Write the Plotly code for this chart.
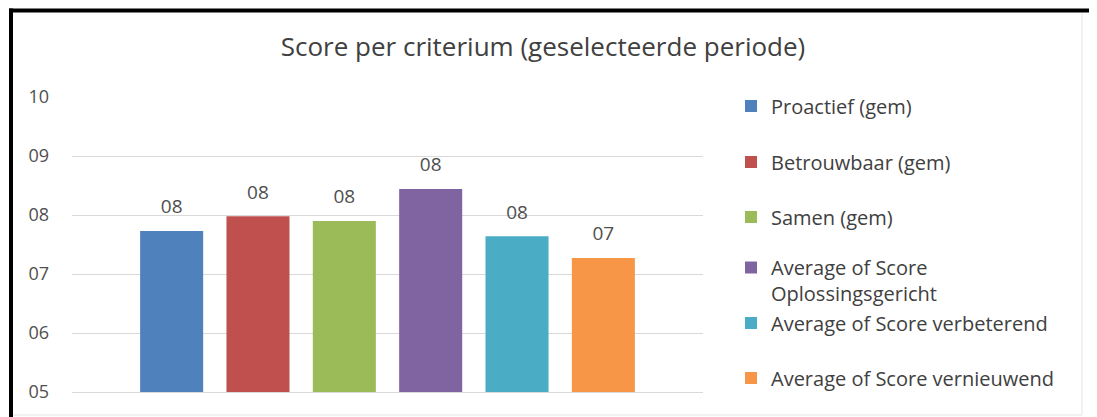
import plotly.graph_objects as go

# ---- data ----
series_names = [
    "Proactief (gem)",
    "Betrouwbaar (gem)",
    "Samen (gem)",
    "Average of Score<br>Oplossingsgericht",
    "Average of Score verbeterend",
    "Average of Score vernieuwend",
]
series_values = [7.73, 7.98, 7.90, 8.44, 7.64, 7.27]
category = ["Score"]
y_ticks = [5, 6, 7, 8, 9, 10]
title_text = "Score per criterium (geselecteerde periode)"

colors = ["#4F81BD", "#C0504D", "#9BBB59", "#8064A2", "#4BACC6", "#F79646"]

# The page body has an 8px default margin; size the figure to fit the window.
OFF = 8
W, H = 1097 - OFF, 417 - OFF
ML, MR, MT, MB = 64, 394, 89, 25
PW = W - ML - MR
PH = H - MT - MB

def xp(px):  # window pixel -> paper x
    return (px - OFF - ML) / PW

def yp(py):  # window pixel -> paper y
    return (H - MB - (py - OFF)) / PH

FONT = "Open Sans"
GREY = "#4F4F4F"
DARK = "#404040"
GAP = 0.179

fig = go.Figure()
legend_names = ["legend", "legend2", "legend3", "legend4", "legend5", "legend6"]
for i, (name, val) in enumerate(zip(series_names, series_values)):
    fig.add_trace(go.Bar(
        x=category,
        y=[val],
        name=name,
        offsetgroup=f"g{i}",
        marker=dict(color=colors[i], line=dict(width=0)),
        legend=legend_names[i],
        hoverinfo="skip",
    ))
for i, val in enumerate(series_values):
    fig.add_trace(go.Scatter(
        x=category,
        y=[val],
        offsetgroup=f"g{i}",
        mode="markers+text",
        marker=dict(size=19, opacity=0),
        texttemplate="%{y:02.0f}",
        textposition="top center",
        textfont=dict(family=FONT, size=19, color=GREY),
        cliponaxis=False,
        showlegend=False,
        hoverinfo="skip",
    ))

# legend item vertical centres (window pixels)
legend_py = [106, 162, 217, 268, 323, 378]
legend_x = xp(731)
layout_legends = {}
for i, ln in enumerate(legend_names):
    if i == 3:
        cfg = dict(x=legend_x, xanchor="left", y=yp(legend_py[i] - 20), yanchor="top",
                   valign="top")
    else:
        cfg = dict(x=legend_x, xanchor="left", y=yp(legend_py[i]), yanchor="middle")
    cfg.update(font=dict(family=FONT, size=20, color=DARK),
               bgcolor="rgba(0,0,0,0)", borderwidth=0, itemwidth=30)
    layout_legends[ln] = cfg

fig.update_layout(
    width=W, height=H, autosize=False,
    margin=dict(l=ML, r=MR, t=MT, b=MB, pad=0),
    paper_bgcolor="white", plot_bgcolor="white",
    barmode="group", bargap=GAP, bargroupgap=0.27,
    scattermode="group", scattergap=GAP,
    showlegend=True,
    title=dict(text=title_text, x=(543 - OFF) / W, xanchor="center",
               y=1 - (47 - OFF) / H, yanchor="middle",
               font=dict(family=FONT, size=26, color=DARK)),
    font=dict(family=FONT, color=GREY),
    **layout_legends,
)

fig.update_xaxes(showticklabels=False, showgrid=False, showline=True,
                 linecolor="#D9D9D9", linewidth=1, zeroline=False, ticks="")
fig.update_yaxes(range=[5, 10], tickvals=y_ticks, tickformat="02d",
                 showgrid=True, gridcolor="#D9D9D9", gridwidth=1,
                 zeroline=False, showline=False, ticks="",
                 ticklabelstandoff=22,
                 tickfont=dict(family=FONT, size=18, color=GREY))

# frame: faint chart-area border and dark screenshot edges
fig.add_shape(type="rect", xref="paper", yref="paper",
              x0=xp(11), x1=xp(1082), y0=yp(415), y1=yp(10),
              line=dict(color="#E4E4E4", width=1), layer="below")
fig.add_shape(type="line", xref="paper", yref="paper",
              x0=xp(11), x1=xp(11), y0=yp(420), y1=yp(8.5),
              line=dict(color="black", width=4))
fig.add_shape(type="line", xref="paper", yref="paper",
              x0=xp(9), x1=xp(1100), y0=yp(10.5), y1=yp(10.5),
              line=dict(color="black", width=4))

fig.write_html("out.html")
